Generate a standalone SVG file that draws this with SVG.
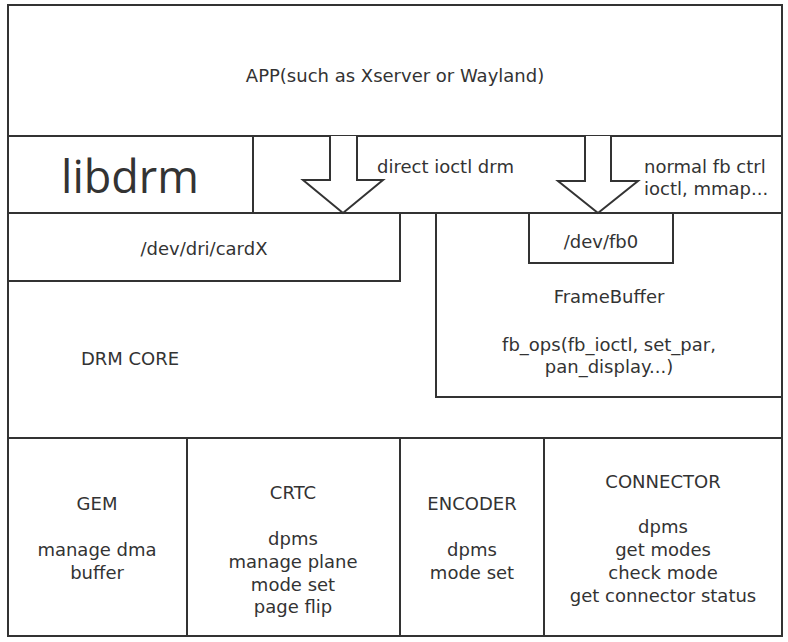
<svg xmlns="http://www.w3.org/2000/svg" width="788" height="642" viewBox="0 0 788 642">
<style>
.b{fill:none;stroke:#333;stroke-width:2}
.a{fill:#fff;stroke:#333;stroke-width:2;stroke-linejoin:miter}
text{font-family:"DejaVu Sans","Open Sans",sans-serif;font-size:18px;fill:#333;text-anchor:middle}
.l{text-anchor:start}
</style>
<rect width="788" height="642" fill="#fff"/>
<g id="app"><rect class="b" x="8" y="5" width="774" height="131"/><text x="395" y="82">APP(such as Xserver or Wayland)</text></g>
<g id="libdrm"><rect class="b" x="8" y="136" width="245" height="77"/><text x="130" y="193" style="font-family:'Open Sans',sans-serif;font-size:45px">libdrm</text></g>
<g id="ioctl-row"><rect class="b" x="253" y="136" width="529" height="77"/></g>
<g id="drmcore"><rect class="b" x="8" y="213" width="774" height="225"/><text x="130" y="365">DRM CORE</text></g>
<g id="cardx"><rect class="b" x="8" y="213" width="392" height="68"/><text x="204" y="255">/dev/dri/cardX</text></g>
<g id="framebuffer"><rect class="b" x="436" y="213" width="346" height="184"/><text x="609" y="303">FrameBuffer</text><text x="609" y="351">fb_ops(fb_ioctl, set_par,</text><text x="609" y="373">pan_display...)</text></g>
<g id="fb0"><rect class="b" x="529" y="213" width="144" height="50"/><text x="601" y="248">/dev/fb0</text></g>
<g id="gem"><rect class="b" x="8" y="438" width="179" height="198"/><text x="97" y="510">GEM</text><text x="97" y="556">manage dma</text><text x="97" y="579">buffer</text></g>
<g id="crtc"><rect class="b" x="187" y="438" width="213" height="198"/><text x="293" y="499">CRTC</text><text x="293" y="545">dpms</text><text x="293" y="568">manage plane</text><text x="293" y="591">mode set</text><text x="293" y="613">page flip</text></g>
<g id="encoder"><rect class="b" x="400" y="438" width="144" height="198"/><text x="472" y="510">ENCODER</text><text x="472" y="556">dpms</text><text x="472" y="579">mode set</text></g>
<g id="connector"><rect class="b" x="544" y="438" width="238" height="198"/><text x="663" y="488">CONNECTOR</text><text x="663" y="533">dpms</text><text x="663" y="556">get modes</text><text x="663" y="579">check mode</text><text x="663" y="602">get connector status</text></g>
<g id="connectors">
<path class="a" d="M330 136 V180 H303 L343 213 L383 180 H357 V136"/>
<text class="l" x="377" y="173">direct ioctl drm</text>
<path class="a" d="M585 136 V181 H558 L598 213 L638 181 H611 V136"/>
<text class="l" x="644" y="173">normal fb ctrl</text>
<text class="l" x="644" y="195">ioctl, mmap...</text>
</g>
</svg>
